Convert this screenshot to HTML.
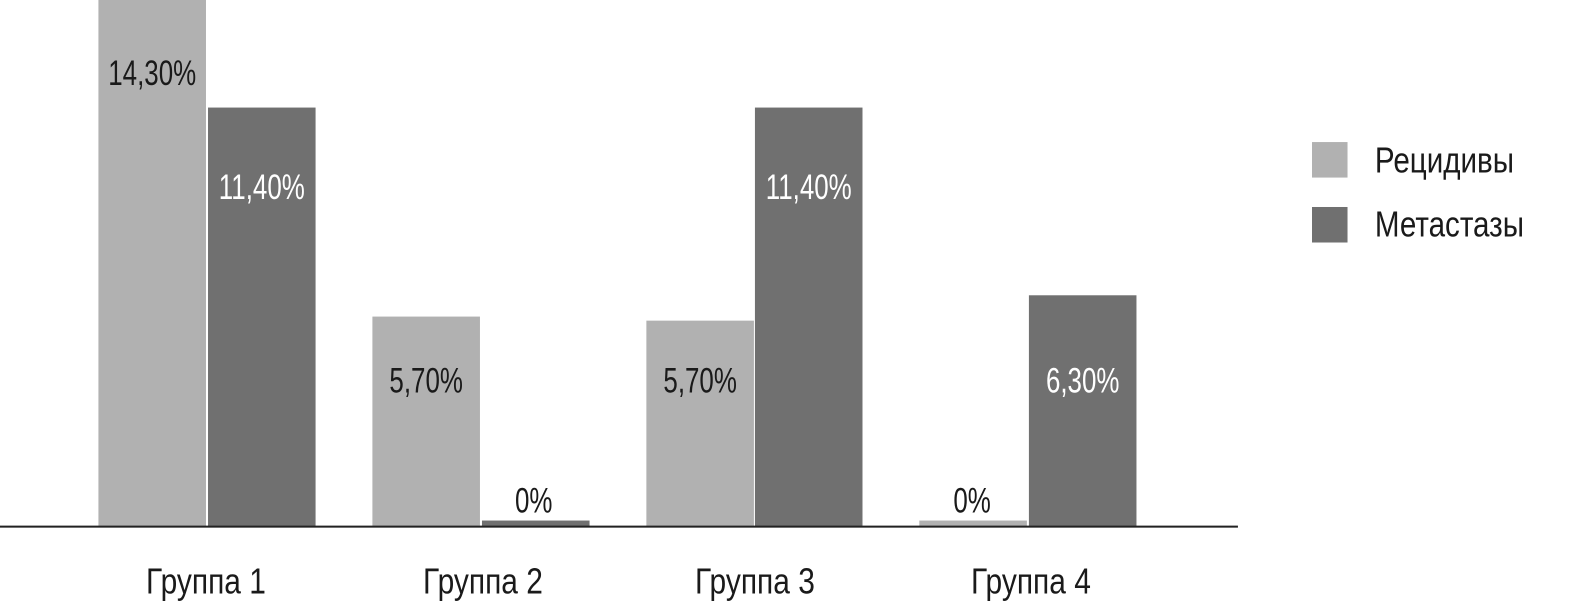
<!DOCTYPE html>
<html><head><meta charset="utf-8"><style>
body{margin:0;background:#fff;}
svg{display:block}
text{font-family:"Liberation Sans Narrow","Liberation Sans",sans-serif;}
</style></head><body>
<svg width="1591" height="602" viewBox="0 0 1591 602" xmlns="http://www.w3.org/2000/svg">
<g transform="scale(1.0147)">
<rect x="97" y="0" width="106" height="519" fill="#b1b1b1"/>
<rect x="205" y="106" width="106" height="413" fill="#707070"/>
<rect x="367" y="312" width="106" height="207" fill="#b1b1b1"/>
<rect x="475" y="513" width="106" height="6" fill="#707070"/>
<rect x="637" y="316" width="106" height="203" fill="#b1b1b1"/>
<rect x="744" y="106" width="106" height="413" fill="#707070"/>
<rect x="906" y="513" width="106" height="6" fill="#b1b1b1"/>
<rect x="1014" y="291" width="106" height="228" fill="#707070"/>
<rect x="0" y="518" width="1220" height="2" fill="#222"/>
<g font-size="35" text-anchor="middle">
<text transform="translate(150,84) scale(0.73,1)" fill="#1a1a1a">14,30%</text>
<text transform="translate(258,196) scale(0.73,1)" fill="#fff">11,40%</text>
<text transform="translate(420,387) scale(0.73,1)" fill="#1a1a1a">5,70%</text>
<text transform="translate(526,505) scale(0.73,1)" fill="#1a1a1a">0%</text>
<text transform="translate(690,387) scale(0.73,1)" fill="#1a1a1a">5,70%</text>
<text transform="translate(797,196) scale(0.73,1)" fill="#fff">11,40%</text>
<text transform="translate(958,505) scale(0.73,1)" fill="#1a1a1a">0%</text>
<text transform="translate(1067,387) scale(0.73,1)" fill="#fff">6,30%</text>
</g>
<g font-size="36" text-anchor="middle" fill="#1a1a1a">
<text transform="translate(203,585) scale(0.82,1)">Группа 1</text>
<text transform="translate(476,585) scale(0.82,1)">Группа 2</text>
<text transform="translate(744,585) scale(0.82,1)">Группа 3</text>
<text transform="translate(1016,585) scale(0.82,1)">Группа 4</text>
</g>
<rect x="1293" y="140" width="35" height="35" fill="#b1b1b1"/>
<rect x="1293" y="204" width="35" height="35" fill="#707070"/>
<g font-size="36" fill="#1a1a1a">
<text transform="translate(1355,170) scale(0.81,1)">Рецидивы</text>
<text transform="translate(1355,233) scale(0.81,1)">Метастазы</text>
</g>
</g>
</svg>
</body></html>
